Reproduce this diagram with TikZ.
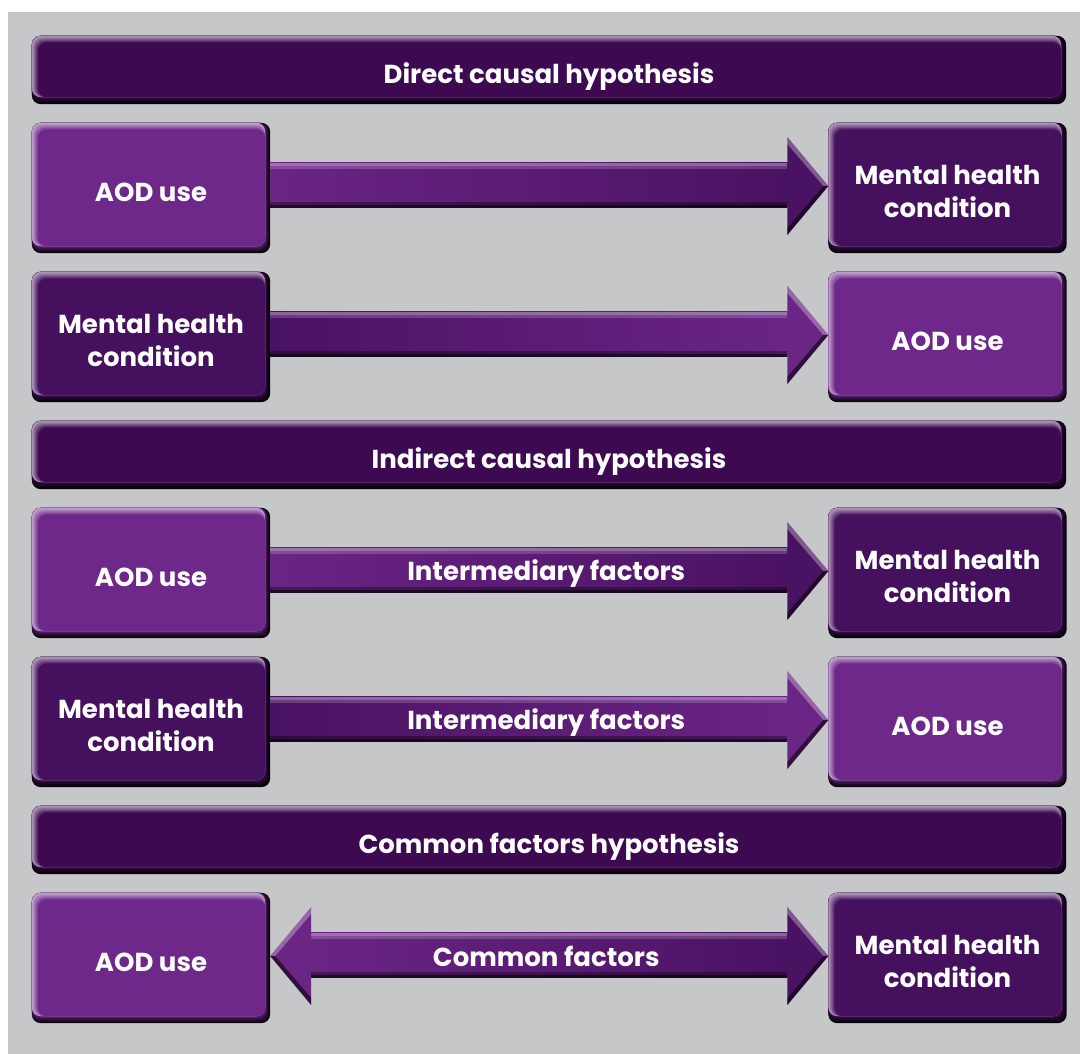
\documentclass[tikz,border=0pt]{standalone}
\usepackage{fontspec}
\setmainfont{Poppins}
\usetikzlibrary{calc}
\pgfdeclarelayer{bglayer}
\pgfdeclarelayer{boxlayer}
\pgfsetlayers{bglayer,boxlayer,main}
\definecolor{bgray}{HTML}{C6C7C9}
\definecolor{hdr}{HTML}{3D0A52}
\definecolor{dk}{HTML}{45105D}
\definecolor{lt}{HTML}{6D2889}
\definecolor{arlt}{HTML}{6A2585}
\definecolor{ardk}{HTML}{4A1262}
\tikzset{
  x=1pt, y=1pt,
  txt/.style={text=white, align=center, inner sep=0pt, font=\bfseries\fontsize{26}{33}\selectfont},
  header/.style={txt, minimum width=1034pt, minimum height=68pt},
  boxn/.style={txt, minimum width=238pt, minimum height=130pt},
  lbl/.style={txt}
}
\newcommand\one[2]{\raisebox{-#1pt}[0pt][0pt]{#2}}
\newcommand\two[3]{\raisebox{#1pt}[0pt][0pt]{\begin{tabular}[t]{@{}c@{}}#2\\#3\end{tabular}}}
\newcommand\bvl[6]{\fill[#6, rounded corners=9pt] ($(#1.south west)+(#2,#5)$) rectangle ($(#1.north east)+(-#4,-#3)$);}
\newcommand\bevelbox[2]{%
  \bvl{#1}{0}{0}{0}{0}{#2!12!black}
  \bvl{#1}{0}{0}{1.5}{1.8}{#2!30!black}
  \bvl{#1}{0}{0}{3}{3.6}{#2!50!black}
  \bvl{#1}{0}{0}{4}{5.2}{#2!72!black}
  \bvl{#1}{0}{0}{5}{6.5}{#2!88!black}
  \bvl{#1}{0}{0}{5}{7}{#2!45!white}
  \bvl{#1}{1.5}{1.8}{5}{7}{#2!58!white}
  \bvl{#1}{3}{3.5}{5}{7}{#2!72!white}
  \bvl{#1}{4.5}{5}{5}{7}{#2!86!white}
  \bvl{#1}{6}{6.5}{5}{7}{#2}
}
\newcommand\shaft[4]{% from, to, left color, right color
  \fill[left color=#3, right color=#4] ($(#1)+(0,25)$) rectangle ($(#2)+(0,-20)$);
  \fill[white,opacity=.35] ($(#1)+(0,25)$) rectangle ($(#2)+(0,22)$);
  \fill[white,opacity=.18] ($(#1)+(0,22)$) rectangle ($(#2)+(0,19)$);
  \fill[black,opacity=.35] ($(#1)+(0,-14)$) rectangle ($(#2)+(0,-17)$);
  \fill[black,opacity=.7] ($(#1)+(0,-17)$) rectangle ($(#2)+(0,-20)$);
}
\newcommand\headR[2]{% tip, colour
  \fill[#2] ($(#1)+(0,2)$) -- ($(#1)+(-41,51)$) -- ($(#1)+(-41,-47)$) -- cycle;
  \fill[white,opacity=.3] ($(#1)+(0,2)$) -- ($(#1)+(-41,51)$) -- ($(#1)+(-41,44)$) -- ($(#1)+(-5,2)$) -- cycle;
  \fill[black,opacity=.55] ($(#1)+(0,2)$) -- ($(#1)+(-41,-47)$) -- ($(#1)+(-41,-40)$) -- ($(#1)+(-5,2)$) -- cycle;
}
\newcommand\headL[2]{%
  \fill[#2] ($(#1)+(0,2)$) -- ($(#1)+(41,51)$) -- ($(#1)+(41,-47)$) -- cycle;
  \fill[white,opacity=.3] ($(#1)+(0,2)$) -- ($(#1)+(41,51)$) -- ($(#1)+(41,44)$) -- ($(#1)+(5,2)$) -- cycle;
  \fill[black,opacity=.55] ($(#1)+(0,2)$) -- ($(#1)+(41,-47)$) -- ($(#1)+(41,-40)$) -- ($(#1)+(5,2)$) -- cycle;
}
\begin{document}
\begin{tikzpicture}
\useasboundingbox (0,0) rectangle (1080,1054);
\begin{pgfonlayer}{bglayer}
\fill[white] (0,0) rectangle (1080,1054);
\fill[bgray] (8,0) rectangle (1080,1042);
\end{pgfonlayer}

% headers
\node[header] (h1) at (549,984) {\one{14}{Direct causal hypothesis}};
\node[header] (h2) at (549,599) {\one{14}{Indirect causal hypothesis}};
\node[header] (h3) at (549,214) {\one{14}{Common factors hypothesis}};

% rows
\node[boxn] (a1) at (151,866) {\one{14}{AOD use}};
\node[boxn] (b1) at (947.5,866) {\two{3}{Mental health}{condition}};
\node[boxn] (a2) at (151,717) {\two{3}{Mental health}{condition}};
\node[boxn] (b2) at (947.5,717) {\one{14}{AOD use}};
\node[boxn] (a3) at (151,481) {\one{14}{AOD use}};
\node[boxn] (b3) at (947.5,481) {\two{3}{Mental health}{condition}};
\node[boxn] (a4) at (151,332) {\two{3}{Mental health}{condition}};
\node[boxn] (b4) at (947.5,332) {\one{14}{AOD use}};
\node[boxn] (a5) at (151,96) {\one{14}{AOD use}};
\node[boxn] (b5) at (947.5,96) {\two{3}{Mental health}{condition}};

\begin{pgfonlayer}{boxlayer}
\foreach \n/\c in {h1/hdr,h2/hdr,h3/hdr,a1/lt,b1/dk,a2/dk,b2/lt,a3/lt,b3/dk,a4/dk,b4/lt,a5/lt,b5/dk}
  {\bevelbox{\n}{\c}}
\end{pgfonlayer}

% arrows
\coordinate (e1) at ($(b1.west)+(-41,0)$);
\shaft{a1.east}{e1}{arlt}{ardk}\headR{b1.west}{ardk}
\coordinate (e2) at ($(b2.west)+(-41,0)$);
\shaft{a2.east}{e2}{ardk}{arlt}\headR{b2.west}{arlt}
\coordinate (e3) at ($(b3.west)+(-41,0)$);
\shaft{a3.east}{e3}{arlt}{ardk}\headR{b3.west}{ardk}
\coordinate (e4) at ($(b4.west)+(-41,0)$);
\shaft{a4.east}{e4}{ardk}{arlt}\headR{b4.west}{arlt}
\coordinate (s5) at ($(a5.east)+(41,0)$);
\coordinate (e5) at ($(b5.west)+(-41,0)$);
\shaft{s5}{e5}{arlt}{ardk}\headR{b5.west}{ardk}\headL{a5.east}{arlt}

% labels
\node[lbl] (l3) at ($(a3.east)!0.5!(b3.west)+(-3,0)$) {\one{8}{Intermediary factors}};
\node[lbl] (l4) at ($(a4.east)!0.5!(b4.west)+(-3,0)$) {\one{8}{Intermediary factors}};
\node[lbl] (l5) at ($(a5.east)!0.5!(b5.west)+(-3,0)$) {\one{9}{Common factors}};
\end{tikzpicture}
\end{document}
